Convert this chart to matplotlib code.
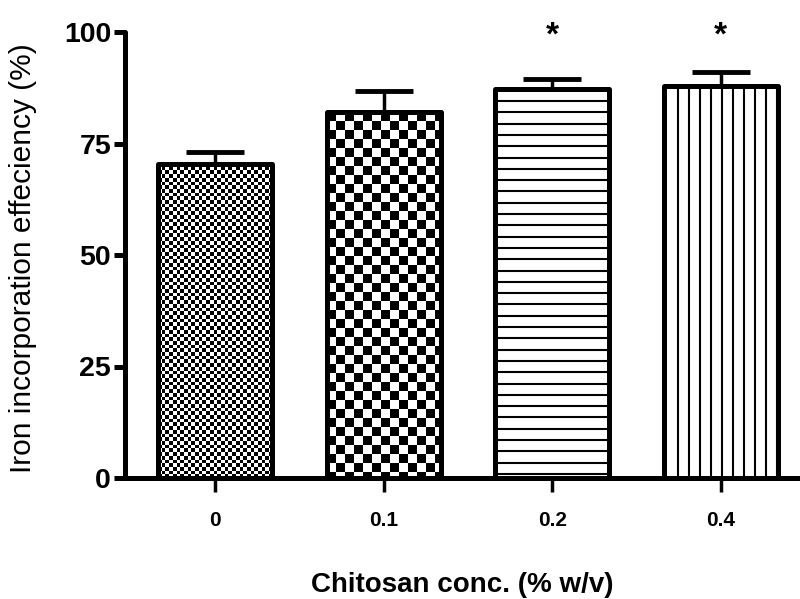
import numpy as np
import matplotlib
matplotlib.use("Agg")
import matplotlib.pyplot as plt

categories = ["0", "0.1", "0.2", "0.4"]
values = [70.5, 82.0, 87.2, 88.0]
errors = [2.7, 4.8, 2.2, 3.0]
significance = ["", "", "*", "*"]
y_ticks = [0, 25, 50, 75, 100]

plt.rcParams['font.family'] = ['Liberation Sans', 'DejaVu Sans']

fig = plt.figure(figsize=(8.0, 5.99), dpi=100)
ax = fig.add_axes([125/800, 121/599, 675/800, 446/599])

x = np.arange(len(categories))
width = 0.675
LW = 3.6

bars = ax.bar(x, values, width=width, facecolor='white', edgecolor='none', zorder=2)
eb = ax.errorbar(x, values, yerr=[np.zeros(len(errors)), errors], fmt='none',
                 ecolor='black', elinewidth=2.5, capsize=21, capthick=3.5, zorder=1.5)

ax.set_xlim(-0.534, 3.47)
ax.set_ylim(0, 100)

def data_per_px():
    t = ax.transData.inverted()
    p0 = t.transform((0, 0))
    p1 = t.transform((1, 1))
    return p1[0] - p0[0], p1[1] - p0[1]

dx, dy = data_per_px()
patterns = ["fine", "coarse", "hlines", "vlines"]
for b, pat in zip(bars, patterns):
    x0, y0 = b.get_x(), b.get_y()
    w, h = b.get_width(), b.get_height()
    if pat in ("fine", "coarse"):
        cell = 3.7 if pat == "fine" else 9.0
        nx = int(round(w / dx / cell)) + 1
        ny = int(round(h / dy / cell)) + 1
        ii, jj = np.indices((ny, nx))
        board = ((ii + jj) % 2).astype(float)
        hpx = ny * cell * dy
        im = ax.imshow(board, cmap='gray', vmin=0, vmax=1, interpolation='nearest',
                       extent=[x0, x0 + nx * cell * dx, y0 + h - hpx, y0 + h],
                       origin='upper', aspect='auto', zorder=2.2)
        im.set_clip_path(b)
    elif pat == "hlines":
        sp = 11.3 * dy
        ys = np.arange(y0 + h - 12 * dy, y0, -sp)
        lc = ax.hlines(ys, x0, x0 + w, colors='black', linewidth=1.5, zorder=2.2)
        lc.set_clip_path(b)
    else:
        sp = 11.0 * dx
        xs = np.arange(x0 + 14 * dx, x0 + w, sp)
        lc = ax.vlines(xs, y0, y0 + h, colors='black', linewidth=1.5, zorder=2.2)
        lc.set_clip_path(b)

ax.set_xlim(-0.534, 3.47)
ax.set_ylim(0, 100)

ax.bar(x, values, width=width, fill=False, edgecolor='black', linewidth=LW,
       joinstyle='round', zorder=3)

for xi, s in zip(x, significance):
    if s:
        ax.annotate(s, xy=(xi, 100), xytext=(0, -3), textcoords='offset points',
                    ha='center', va='center', fontsize=24, fontweight='bold',
                    annotation_clip=False)

for side in ['top', 'right']:
    ax.spines[side].set_visible(False)
for side in ['left', 'bottom']:
    ax.spines[side].set_linewidth(LW)
ax.spines['left'].set_capstyle('round')

ax.set_yticks(y_ticks)
ax.set_yticklabels([str(v) for v in y_ticks], fontsize=20.5, fontweight='bold')
ax.set_xticks(x)
ax.set_xticklabels(categories, fontsize=15, fontweight='bold')
ax.tick_params(axis='y', length=8, width=LW, pad=2)
ax.tick_params(axis='x', length=10, width=2.5, pad=14)

ax.set_ylabel("Iron incorporation effeciency (%)", fontsize=21.5, va='center')
ax.yaxis.set_label_coords(-0.151, 0.493)
ax.set_xlabel("Chitosan conc. (% w/v)", fontsize=20, fontweight='bold', labelpad=30)

fig.savefig("out.png", dpi=100)
